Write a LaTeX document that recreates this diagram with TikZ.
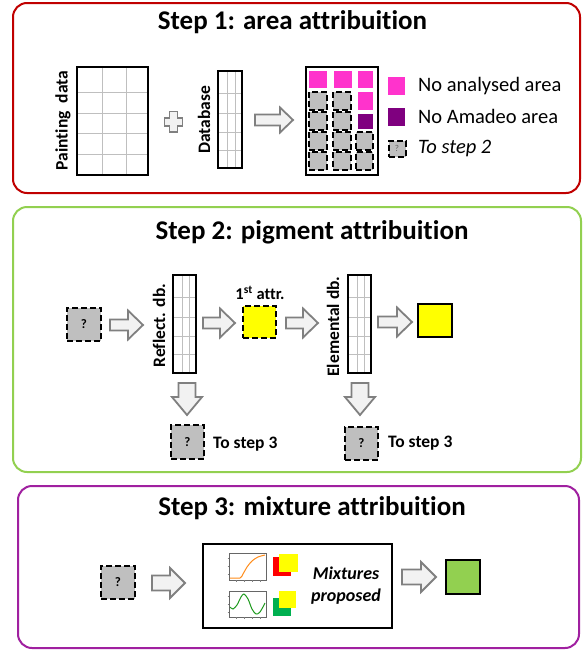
\documentclass[tikz,border=0pt]{standalone}
\usepackage{fontspec}
\setmainfont{Carlito}[Ligatures=NoCommon]
\definecolor{pred}{HTML}{C00000}
\definecolor{pgreen}{HTML}{92D050}
\definecolor{ppurple}{HTML}{A020A0}
\definecolor{qgray}{HTML}{BFBFBF}
\definecolor{pinkc}{HTML}{FF33CC}
\definecolor{dpurple}{HTML}{7F007F}
\definecolor{agray}{HTML}{808080}
\definecolor{afill}{HTML}{F2F2F2}
\definecolor{yel}{HTML}{FFFF00}
\definecolor{lgreen}{HTML}{92D050}
\definecolor{mgreen}{HTML}{00B050}
\definecolor{ored}{HTML}{FF0000}
\definecolor{orng}{HTML}{FF8C1A}
\definecolor{cgreen}{HTML}{1E9A1E}
\tikzset{
  panel/.style={rounded corners=14pt, line width=2pt},
  ttl/.style={font=\fontsize{27}{30}\selectfont\bfseries, anchor=base, inner sep=0pt},
  lab/.style={font=\fontsize{17.5}{20}\selectfont\bfseries, inner sep=0pt},
  leg/.style={font=\fontsize{20.5}{22}\selectfont, anchor=west, inner sep=0pt},
  outer/.style={draw=black, line width=2pt, inner sep=0pt},
  innerl/.style={draw=black!25, line width=0.7pt},
  qbox/.style={draw=black, fill=qgray, line width=2pt, dash pattern=on 6pt off 3pt, inner sep=0pt, font=\fontsize{13}{13}\selectfont\bfseries},
  cell/.style={inner sep=0pt, draw=none},
  arrowst/.style={draw=agray, fill=afill, line width=1.8pt, line join=miter},
  plotframe/.style={draw=black!60, line width=0.8pt, fill=white},
  pics/barrow/.style n args={4}{code={
    \draw[arrowst] (0,{-#3}) -- ({#1-#4},{-#3}) -- ({#1-#4},{-#2}) -- (#1,0) -- ({#1-#4},#2) -- ({#1-#4},#3) -- (0,#3) -- cycle;}},
}
\begin{document}
\begin{tikzpicture}[x=1pt,y=-1pt]
\useasboundingbox (0,0) rectangle (585,651);
\fill[white] (0,0) rectangle (585,651);
% ---------------- panels
\draw[panel, draw=pred] (13,3) rectangle (580,193);
\draw[panel, draw=pgreen] (13,207) rectangle (581,472);
\draw[panel, draw=ppurple] (18,486) rectangle (579,648);
\node[ttl] (t1) at (292.5,29) {Step 1: area attribuition};
\node[ttl] (t2) at (312,239) {Step 2: pigment attribuition};
\node[ttl] (t3) at (312,515) {Step 3: mixture attribuition};

% ---------------- step 1
\node[lab, rotate=90] (pdl) at (63,120.5) {Painting\ \ data};
\foreach \x in {102,126} \draw[innerl] (\x,67) -- (\x,175);
\foreach \y in {92,113,133,154} \draw[innerl] (77,\y) -- (148,\y);
\node[outer, minimum width=71pt, minimum height=108pt] (pgrid) at (112.5,121) {};
\draw[arrowst] (169.5,111.5) -- (177.5,111.5) -- (177.5,118) -- (182.5,118) -- (182.5,126) -- (177.5,126) -- (177.5,132) -- (169.5,132) -- (169.5,126) -- (164.5,126) -- (164.5,118) -- (169.5,118) -- cycle;
\node[lab, rotate=90] (dbl) at (204,120) {Database};
\foreach \x in {227,235} \draw[innerl] (\x,71) -- (\x,168);
\foreach \y in {93,113,132,150} \draw[innerl] (218,\y) -- (242,\y);
\node[outer, minimum width=24pt, minimum height=97pt] (dgrid) at (230,119.5) {};
\pic at (255,120) {barrow={38}{12.5}{5.5}{13}};
% result grid
\node[outer, minimum width=72pt, minimum height=108pt] (rgrid) at (342,121) {};
\node[cell, fill=pinkc, minimum width=18pt, minimum height=17pt] (c11) at (318,79.5) {};
\node[cell, fill=pinkc, minimum width=18pt, minimum height=17pt] (c12) at (343,79.5) {};
\node[cell, fill=pinkc, minimum width=15pt, minimum height=17pt] (c13) at (365.5,79.5) {};
\node[cell, fill=pinkc, minimum width=15pt, minimum height=18pt] (c23) at (365.5,101) {};
\node[cell, fill=dpurple, minimum width=15pt, minimum height=15pt] (c33) at (365.5,121.5) {};
\foreach \r/\yy in {2/101,3/121,4/141,5/161} {
  \node[qbox, minimum width=18pt, minimum height=18pt] (g\r a) at (318,\yy) {};
  \node[qbox, minimum width=18pt, minimum height=18pt] (g\r b) at (342,\yy) {};
}
\node[qbox, minimum width=17pt, minimum height=18pt] (g4c) at (364.5,141) {};
\node[qbox, minimum width=17pt, minimum height=18pt] (g5c) at (364.5,161) {};
% legend
\node[cell, fill=pinkc, minimum width=17pt, minimum height=18pt] (lp) at (396.5,86) {};
\node[cell, fill=dpurple, minimum width=17pt, minimum height=18pt] (lq) at (396.5,117) {};
\node[qbox, minimum width=17pt, minimum height=16pt, font=\fontsize{9}{9}\selectfont, text=black!60] (lr) at (397,148.5) {?};
\node[leg] (lpt) at (418,86) {No analysed area};
\node[leg] (lqt) at (418,116.5) {No Amadeo area};
\node[leg, font=\fontsize{20.5}{22}\selectfont\itshape] (lrt) at (418,148.5) {To step 2};

% ---------------- step 2
\node[qbox, minimum width=34pt, minimum height=33pt] (q1) at (84,324.5) {?};
\pic at (110,325) {barrow={33}{14.5}{5.5}{15}};
\node[lab, rotate=90] (rfl) at (159,325.5) {Reflect. db.};
\foreach \x in {182,189} \draw[innerl] (\x,275) -- (\x,373);
\foreach \y in {297,317,336,354} \draw[innerl] (173,\y) -- (196,\y);
\node[outer, minimum width=23pt, minimum height=98pt] (rgrid2) at (184.5,324) {};
\pic at (203,323) {barrow={32}{14.5}{5.5}{15}};
\node[lab, font=\fontsize{16.5}{18}\selectfont\bfseries] (fa) at (260,293) {1\textsuperscript{st} attr.};
\node[qbox, fill=yel, minimum width=33pt, minimum height=32pt] (y1) at (259.5,322) {};
\pic at (286,323) {barrow={32}{14.5}{5.5}{15}};
\node[lab, rotate=90] (ell) at (333,326.5) {Elemental db.};
\foreach \x in {357,364} \draw[innerl] (\x,275) -- (\x,373);
\foreach \y in {297,317,336,354} \draw[innerl] (348,\y) -- (371,\y);
\node[outer, minimum width=23pt, minimum height=98pt] (egrid) at (359.5,324) {};
\pic at (378,322) {barrow={34}{14.5}{5.5}{15}};
\node[outer, fill=yel, minimum width=34pt, minimum height=33pt] (y2) at (435,320.5) {};
\pic[rotate=-90] at (187,383) {barrow={32}{15}{8.5}{18}};
\pic[rotate=-90] at (360,383) {barrow={32}{15}{8.5}{18}};
\node[qbox, minimum width=33pt, minimum height=34pt] (q2) at (187.5,442) {?};
\node[qbox, minimum width=33pt, minimum height=33pt] (q3) at (361.5,443.5) {?};
\node[lab, anchor=west] (ts1) at (213,444) {To step 3};
\node[lab, anchor=west] (ts2) at (388,443) {To step 3};

% ---------------- step 3
\node[qbox, minimum width=34pt, minimum height=33pt] (q4) at (118,582.5) {?};
\pic at (152,583) {barrow={33}{15}{7.5}{15}};
\node[outer, minimum width=189pt, minimum height=84pt] (mbox) at (297.5,586) {};
% plot 1
\draw[plotframe] (229,553) rectangle (266,580);
\foreach \t in {236,244,252,260} \draw[black!50, line width=0.4pt] (\t,580) -- (\t,581.5);
\foreach \t in {558,566,574} \draw[black!50, line width=0.4pt] (227.5,\t) -- (229,\t);
\draw[orng, line width=1pt] plot[smooth] coordinates {(230,578) (240,578) (243,574) (247,567) (252,561) (258,557) (265,555)};
% plot 2
\draw[plotframe] (229,591) rectangle (266,617);
\foreach \t in {236,244,252,260} \draw[black!50, line width=0.4pt] (\t,617) -- (\t,618.5);
\foreach \t in {596,604,612} \draw[black!50, line width=0.4pt] (227.5,\t) -- (229,\t);
\draw[cgreen, line width=1pt] plot[smooth] coordinates {(230,607) (233,609) (237,605) (241,597) (244,594) (248,599) (252,609) (256,614) (260,612) (265,603)};
\node[cell, fill=ored, minimum width=18pt, minimum height=19pt] (mr) at (282,566.5) {};
\node[cell, fill=yel, minimum width=19pt, minimum height=18pt] (my1) at (288.5,563) {};
\node[cell, fill=mgreen, minimum width=18pt, minimum height=18pt] (mg) at (282,607) {};
\node[cell, fill=yel, minimum width=17pt, minimum height=17pt] (my2) at (287.5,599.5) {};
\node[lab, font=\fontsize{18}{22}\selectfont\bfseries\itshape, align=center] (mt) at (346,586) {Mixtures\\proposed};
\pic at (402,577) {barrow={34}{15}{7.5}{15}};
\node[outer, fill=lgreen, minimum width=34pt, minimum height=34pt] (gfin) at (463,577) {};
\end{tikzpicture}
\end{document}
